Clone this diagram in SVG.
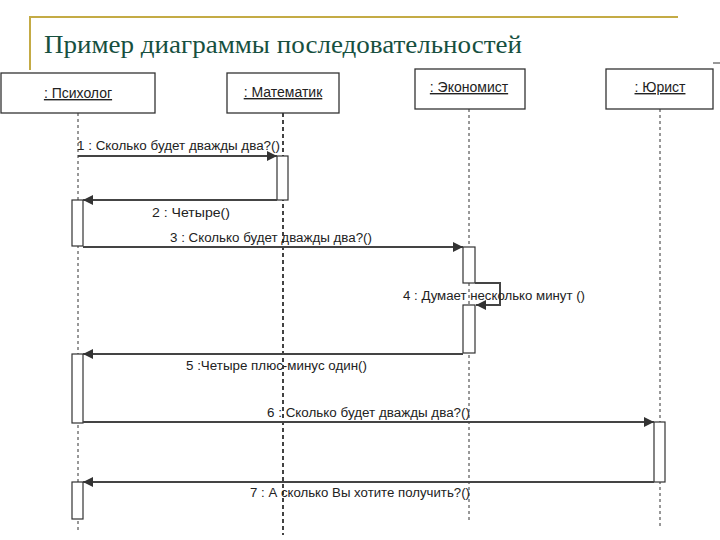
<svg xmlns="http://www.w3.org/2000/svg" width="720" height="540" viewBox="0 0 720 540">
<style>
.box{fill:#fff;stroke:#333;stroke-width:1.3}
.act{fill:#fff;stroke:#333;stroke-width:1.2}
.life{stroke:#333;stroke-width:1;stroke-dasharray:3 3;fill:none}
.lifeb{stroke:#222;stroke-width:1.7;stroke-dasharray:4 3;fill:none}
.msg{stroke:#444;stroke-width:2;fill:none;marker-end:url(#ah)}
.lbl{font-family:"Liberation Sans",Arial,sans-serif;font-size:12.5px;fill:#222}
.name{font-family:"Liberation Sans",Arial,sans-serif;font-size:14px;fill:#222;text-anchor:middle;text-decoration:underline}
.frame{stroke:#c4ab45;stroke-width:2;fill:none}
</style>
<defs>
<marker id="ah" viewBox="0 0 10 10" refX="10" refY="5" markerWidth="5" markerHeight="5" orient="auto" markerUnits="strokeWidth">
<path d="M0,0 L10,5 L0,10 z" fill="#333"/>
</marker>
</defs>
<rect width="720" height="540" fill="#fff"/>
<g id="title">
<path class="frame" d="M30,70 V17 H678"/>
<text x="44" y="53" font-family="Liberation Serif,serif" font-size="26" fill="#17503f" textLength="478" lengthAdjust="spacingAndGlyphs">Пример диаграммы последовательностей</text>
<line x1="713" y1="63" x2="720" y2="63" stroke="#333" stroke-width="1"/>
</g>
<g id="psiholog">
<line class="life" x1="78" y1="113" x2="78" y2="533"/>
<rect class="box" x="1" y="73" width="154" height="40"/>
<text class="name" x="78" y="98">: Психолог</text>
<rect class="act" x="72" y="200" width="11" height="46"/>
<rect class="act" x="72" y="354" width="11" height="69"/>
<rect class="act" x="72" y="482" width="11" height="37"/>
</g>
<g id="matematik">
<line class="lifeb" x1="283" y1="113" x2="283" y2="535"/>
<rect class="box" x="227" y="73" width="112" height="40"/>
<text class="name" x="283" y="97">: Математик</text>
<rect class="act" x="277" y="156" width="11" height="44"/>
</g>
<g id="ekonomist">
<line class="life" x1="469" y1="109" x2="469" y2="522"/>
<rect class="box" x="415" y="69" width="110" height="40"/>
<text class="name" x="469" y="92" font-size="13">: Экономист</text>
<rect class="act" x="463" y="247" width="12" height="36"/>
<rect class="act" x="463" y="305" width="12" height="48"/>
</g>
<g id="yurist">
<line class="life" x1="660" y1="109" x2="660" y2="527"/>
<rect class="box" x="606" y="69" width="107" height="40"/>
<text class="name" x="660" y="92" font-size="13">: Юрист</text>
<rect class="act" x="654" y="422" width="11" height="60"/>
</g>
<g id="connectors">
<line class="msg" x1="78" y1="156" x2="277" y2="156"/>
<text class="lbl" x="77" y="150" textLength="203" lengthAdjust="spacingAndGlyphs">1 : Сколько будет дважды два?()</text>
<line class="msg" x1="277" y1="200" x2="83" y2="200"/>
<text class="lbl" x="152" y="217" textLength="78" lengthAdjust="spacingAndGlyphs">2 : Четыре()</text>
<line class="msg" x1="83" y1="247" x2="463" y2="247"/>
<text class="lbl" x="170" y="242" textLength="202" lengthAdjust="spacingAndGlyphs">3 : Сколько будет дважды два?()</text>
<path class="msg" d="M475,283 H500 V305 H476"/>
<text class="lbl" x="403" y="300" textLength="182" lengthAdjust="spacingAndGlyphs">4 : Думает несколько минут ()</text>
<line class="msg" x1="463" y1="354" x2="83" y2="354"/>
<text class="lbl" x="186" y="370" textLength="181" lengthAdjust="spacingAndGlyphs">5 :Четыре плюс-минус один()</text>
<line class="msg" x1="83" y1="422" x2="654" y2="422"/>
<text class="lbl" x="267" y="417" textLength="203" lengthAdjust="spacingAndGlyphs">6 : Сколько будет дважды два?()</text>
<line class="msg" x1="654" y1="482" x2="83" y2="482"/>
<text class="lbl" x="250" y="497" textLength="220" lengthAdjust="spacingAndGlyphs">7 : А сколько Вы хотите получить?()</text>
</g>
</svg>
